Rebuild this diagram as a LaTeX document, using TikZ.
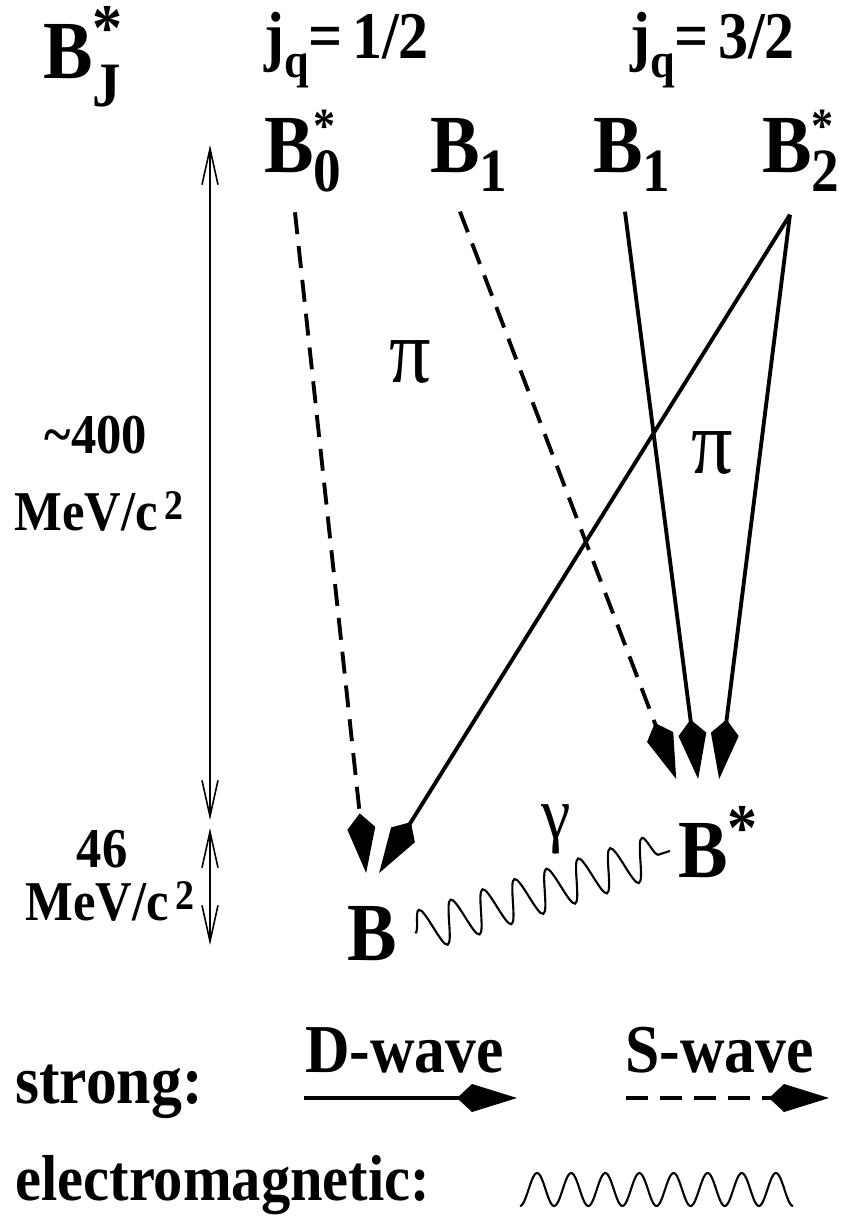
\documentclass[tikz,border=0pt]{standalone}
\usepackage{fontspec}
\setmainfont{Liberation Serif}[FakeStretch=0.9]
\usetikzlibrary{arrows.meta, decorations.pathmorphing}

\newcommand{\meson}[2]{B\rlap{\raisebox{17pt}{\fontsize{28}{28}\selectfont #1}}\raisebox{-11pt}{\fontsize{35}{35}\selectfont #2}}
\newcommand{\unitsq}[1]{MeV/c\hspace{4pt}\raisebox{#1}{\fontsize{24}{24}\selectfont 2}}

\begin{document}
\begin{tikzpicture}[x=0.02cm, y=-0.02cm,
    meson/.style={inner sep=0pt, font=\bfseries\fontsize{47}{47}\selectfont},
    spin/.style={inner sep=0pt, font=\bfseries\fontsize{38}{38}\selectfont},
    gaplabel/.style={inner sep=0pt, font=\bfseries\fontsize{32}{32}\selectfont},
    quantum/.style={inner sep=0pt, font=\fontsize{52}{52}\selectfont},
    legend/.style={inner sep=0pt, font=\bfseries\fontsize{39}{39}\selectfont},
    dwave/.style={line width=2.2pt, -{Kite[length=1.2cm, width=0.56cm, inset=0.3cm]}},
    swave/.style={dwave, dash pattern=on 0.44cm off 0.24cm},
    photon/.style={line width=1.2pt, decorate, decoration={snake, amplitude=0.42cm, segment length=0.67cm}},
    gap/.style={line width=0.9pt, {Straight Barb[length=0.72cm, width=0.32cm]}-{Straight Barb[length=0.72cm, width=0.32cm]}}
]
\useasboundingbox (0,0) rectangle (844,1224);

% headings
\node[meson, anchor=base west] (BJ) at (43,78) {B\rlap{\raisebox{15.5pt}{\fontsize{38}{38}\selectfont *}}\raisebox{-16.5pt}{\fontsize{36}{36}\selectfont J}};
\node[spin, anchor=base west] (jlow) at (264,58) {j\raisebox{-11pt}{\fontsize{28}{28}\selectfont q}=\hspace{5pt}1/2};
\node[spin, anchor=base west] (jhigh) at (630,58) {j\raisebox{-11pt}{\fontsize{28}{28}\selectfont q}=\hspace{5pt}3/2};

% excited states
\node[meson, anchor=base west] (B0) at (264,172) {\meson{*}{0}};
\node[meson, anchor=base west] (B1a) at (430,172) {\meson{}{1}};
\node[meson, anchor=base west] (B1b) at (593,172) {\meson{}{1}};
\node[meson, anchor=base west] (B2) at (762,172) {\meson{*}{2}};

% ground states
\node[meson, anchor=base west] (B) at (347,960) {B};
\node[meson, anchor=base west] (Bs) at (678,877) {B\raisebox{15pt}{\fontsize{38}{38}\selectfont *}};

\node[quantum] (pi1) at (410,362) {π};
\node[quantum] (pi2) at (712,453) {π};
\node[quantum, font=\fontsize{42}{42}\selectfont] (gam) at (556,829) {γ};

% mass splittings
\coordinate (dimtop) at (210,145);
\coordinate (dimmid) at (210,820);
\coordinate (dimmid2) at (210,828);
\coordinate (dimbot) at (210,945);
\draw[gap] (dimtop) -- (dimmid);
\draw[gap] (dimmid2) -- (dimbot);
\node[gaplabel, anchor=base] (gap1) at (96,453) {\textasciitilde 400};
\node[gaplabel, anchor=base] (unit1) at (99,530) {\unitsq{6pt}};
\node[gaplabel, anchor=base] (gap2) at (102,867) {46};
\node[gaplabel, anchor=base] (unit2) at (110,920) {\unitsq{6pt}};

% transitions
\draw[swave] ([xshift=-0.16cm, yshift=-0.4cm]B0.south) -- ([xshift=-0.12cm, yshift=1.74cm]B.base);
\draw[swave] ([xshift=-0.18cm, yshift=-0.4cm]B1a.south) -- ([xshift=-0.84cm, yshift=1.96cm]Bs.base);
\draw[dwave] ([xshift=-0.14cm, yshift=-0.4cm]B1b.south) -- ([xshift=-0.4cm, yshift=1.96cm]Bs.base);
\draw[dwave] ([xshift=-0.22cm, yshift=-0.46cm]B2.south) -- ([xshift=0.02cm, yshift=1.96cm]Bs.base);
\draw[dwave] ([xshift=-0.22cm, yshift=-0.46cm]B2.south) -- ([xshift=0.14cm, yshift=1.74cm]B.base);
\draw[photon] ([xshift=0.36cm]B.east) -- ([xshift=-0.16cm, yshift=-0.18cm]Bs.west);

% legend
\node[legend, anchor=base west] (strong) at (15,1103) {strong:};
\node[legend, anchor=base west] (dlabel) at (305,1072) {D-wave};
\node[legend, anchor=base west] (slabel) at (625,1072) {S-wave};
\node[legend, anchor=base west, font=\bfseries\fontsize{37}{37}\selectfont] (em) at (15,1200) {electromagnetic:};
\coordinate (dstart) at (304,1098);
\coordinate (dend) at (517,1098);
\coordinate (sstart) at (626,1098);
\coordinate (send) at (829,1098);
\draw[dwave] (dstart) -- (dend);
\draw[swave] (sstart) -- (send);
\draw[line width=1.2pt] plot[domain=520:793, samples=200, smooth] (\x, {1189.5+16.5*cos((\x-520)/34.125*360)});
\end{tikzpicture}
\end{document}
